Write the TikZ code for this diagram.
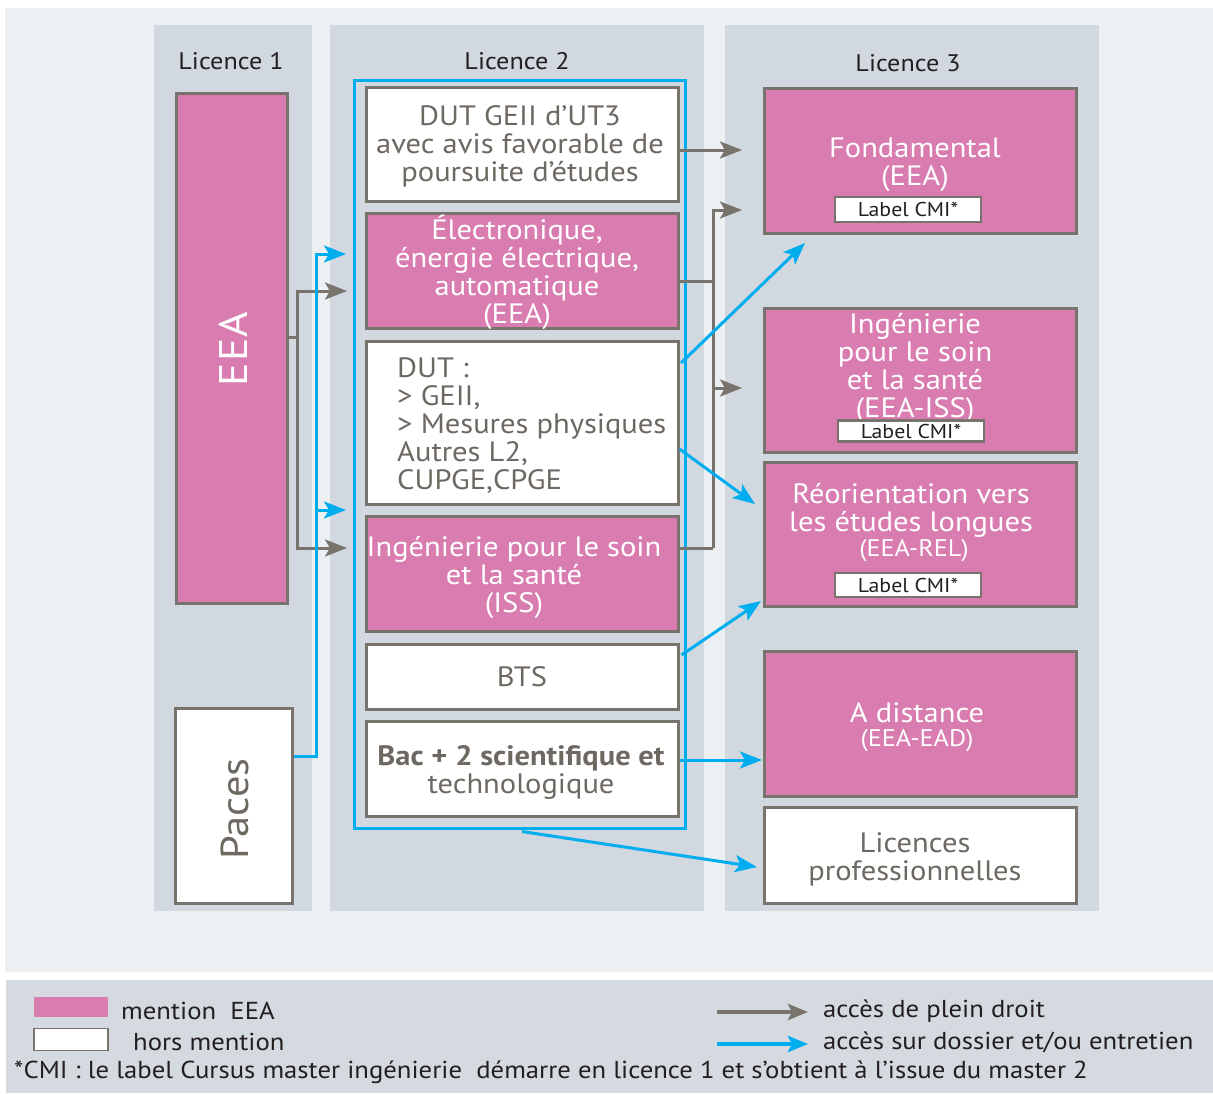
\documentclass[tikz,border=0pt]{standalone}
\usepackage{fontspec}
\setmainfont{PT Sans}[FakeStretch=1.09]
\usetikzlibrary{arrows.meta}
\definecolor{pinkf}{HTML}{D97CB0}
\definecolor{bord}{HTML}{78736C}
\definecolor{cyanb}{HTML}{00AEEF}
\definecolor{colbg}{HTML}{D1D8E0}
\definecolor{outbg}{HTML}{ECF0F3}
\definecolor{legbg}{HTML}{D4DAE0}
\definecolor{txtg}{HTML}{6E6862}
\definecolor{txtd}{HTML}{231F20}
\begin{document}
\begin{tikzpicture}[x=1pt,y=-1pt,
  fsz/.style={font=\fontsize{28}{28}\selectfont},
  fsm/.style={font=\fontsize{24}{26}\selectfont},
  box/.style={draw=bord, line width=3pt, inner sep=0pt, align=center, fsz, minimum width=312pt},
  pbox/.style={box, fill=pinkf, text=white},
  wbox/.style={box, fill=white, text=txtg},
  lab/.style={draw=bord, line width=2.5pt, fill=white, text=txtd, inner sep=0pt, minimum width=146pt, font=\fontsize{20}{20}\selectfont},
  colr/.style={fill=colbg},
  ptxt/.style={text=white, align=center, inner sep=0pt, fsz},
  head/.style={text=txtd, inner sep=0pt, font=\fontsize{24}{24}\selectfont},
  gline/.style={draw=bord, line width=3pt},
  bline/.style={draw=cyanb, line width=3pt},
  garrow/.style={gline, -{Stealth[length=22pt,width=17pt,inset=5pt]}},
  barrow/.style={bline, -{Stealth[length=22pt,width=17pt,inset=5pt]}},
  legt/.style={text=txtd, inner sep=0pt, anchor=west, font=\fontsize{24.5}{24.5}\selectfont}
]
\useasboundingbox (0,0) rectangle (1213,1093);
\fill[white] (0,0) rectangle (1213,1093);
% backgrounds
\fill[outbg] (5,8) rectangle (1213,972);
\fill[legbg] (6,980) rectangle (1213,1093);
\fill[colr] (154,25) rectangle (312,911);
\fill[colr] (330,25) rectangle (704,911);
\fill[colr] (725,25) rectangle (1099,911);
% headers
\node[head] (h1) at (231,61) {Licence 1};
\node[head] (h2) at (517,61) {Licence 2};
\node[head] (h3) at (908,63) {Licence 3};
% Licence 1
\node[draw=bord, line width=3pt, fill=pinkf, minimum width=111pt, minimum height=510pt, inner sep=0pt] (eea1) at (231.5,348) {};
\node[text=white, rotate=90, inner sep=0pt, font=\fontsize{40}{40}\selectfont] (eea1t) at (233,349) {E\kern1pt E\kern1pt A};
\node[draw=bord, line width=3pt, fill=white, minimum width=117pt, minimum height=195pt, inner sep=0pt] (paces) at (233.5,805.5) {};
\node[text=txtg, rotate=90, inner sep=0pt, font=\fontsize{39}{39}\selectfont] (pacest) at (235,809) {Paces};
% Licence 2 frame
\node[draw=cyanb, line width=3pt, minimum width=331pt, minimum height=748pt, inner sep=0pt] (frame) at (519.5,454) {};
% Licence 2 boxes
\node[wbox, minimum height=114pt] (dutgeii) at (522,144) {};
\node[text=txtg, align=center, inner sep=0pt, fsz] (dutgeiit) at (520,146) {DUT GEII d’UT3\\avec avis favorable de\\poursuite d’études};
\node[pbox, minimum height=115pt] (eea2) at (522,270.5) {};
\node[ptxt] (eea2t) at (517,272) {Électronique,\\énergie électrique,\\automatique\\(EEA)};
\node[wbox, minimum height=163pt] (dut) at (522,422.5) {};
\node[text=txtg, align=left, inner sep=0pt, fsz, anchor=west] (dutt) at (397,426) {DUT :\\> GEII,\\> Mesures physiques\\Autres L2,\\CUPGE,CPGE};
\node[pbox, minimum height=115pt] (iss2) at (522,573.5) {};
\node[ptxt] (iss2t) at (514,577) {Ingénierie pour le soin\\et la santé\\(ISS)};
\node[wbox, minimum height=65pt] (bts) at (522,676.5) {BTS};
\node[wbox, minimum height=95pt] (bac) at (522,768.5) {};
\node[text=txtg, align=center, inner sep=0pt, fsz] (bact) at (521,772) {\textbf{Bac + 2 scientifique et}\\technologique};
% Licence 3 boxes
\node[pbox, minimum height=145pt] (fond) at (920,160.5) {};
\node[ptxt] (fondt) at (915,165) {Fondamental\\(EEA)};
\node[lab, minimum height=25pt] (lab1) at (908,209.5) {Label CMI*};
\node[pbox, minimum height=144pt] (iss3) at (920,380) {};
\node[ptxt] (iss3t) at (915,368) {Ingénierie\\pour le soin\\et la santé\\(EEA-ISS)};
\node[lab, minimum height=21pt] (lab2) at (911,431) {Label CMI*};
\node[pbox, minimum height=144pt] (rel) at (920,534) {};
\node[ptxt] (relt) at (911,510) {Réorientation vers\\les études longues};
\node[ptxt, fsm] (relt2) at (914,551) {(EEA-REL)};
\node[lab, minimum height=24pt] (lab3) at (908,585) {Label CMI*};
\node[pbox, minimum height=145pt] (dist) at (920,723.5) {};
\node[ptxt] (distt) at (917,713) {A distance};
\node[ptxt, fsm] (distt2) at (917,741) {(EEA-EAD)};
\node[wbox, minimum height=96pt] (lpro) at (920,855) {};
\node[text=txtg, align=center, inner sep=0pt, fsz] (lprot) at (915,859) {Licences\\professionnelles};
% coordinates
\coordinate (t1) at (742,150);
\coordinate (bA) at (713,210);
\coordinate (bB) at (713,548);
\coordinate (t2) at (742,210);
\coordinate (t3) at (742,388);
\coordinate (lA) at (297,291);
\coordinate (lB) at (297,548);
\coordinate (tl1) at (347,291);
\coordinate (tl2) at (347,548);
\coordinate (pA) at (316,254);
\coordinate (tb1) at (346,254);
\coordinate (tb2) at (346,510);
\coordinate (tf) at (805,243);
\coordinate (tr1) at (755,504);
\coordinate (tr2) at (761,601);
\coordinate (td) at (762,760);
\coordinate (tp) at (757,867);
% gray connectors
\draw[garrow] (dutgeii.east |- t1) -- (t1);
\draw[gline] ([yshift=-10.5pt]eea2.east) -- ++(35,0);
\draw[gline] ([yshift=25.5pt]iss2.east) -- (bB);
\draw[garrow] (bB) -- (bA) -- (t2);
\draw[garrow] (bA |- t3) -- (t3);
\draw[gline] ([yshift=11pt]eea1.east) -- ++(10,0);
\draw[gline, {Stealth[length=22pt,width=17pt,inset=5pt]}-{Stealth[length=22pt,width=17pt,inset=5pt]}] (tl1) -- (lA) -- (lB) -- (tl2);
% blue connectors
\draw[bline, {Stealth[length=22pt,width=17pt,inset=5pt]}-] (tb1) -- (pA) |- ([yshift=49.5pt]paces.east);
\draw[barrow] (pA |- tb2) -- (tb2);
\draw[barrow] ([yshift=59.5pt,xshift=1.5pt]dut.east) -- (tf);
\draw[barrow] ([yshift=-26.5pt]dut.east) -- (tr1);
\draw[barrow] ([yshift=21.5pt,xshift=2pt]bts.east) -- (tr2);
\draw[barrow] (bac.east |- td) -- (td);
\draw[barrow] ([yshift=-2pt,xshift=2.5pt]frame.south) -- (tp);
% legend
\node[fill=pinkf, minimum width=74pt, minimum height=20pt, inner sep=0pt] (lg1) at (71,1007) {};
\node[draw=bord, line width=1.5pt, fill=white, minimum width=74pt, minimum height=22pt, inner sep=0pt] (lg2) at (71,1039.5) {};
\node[legt] (lg1t) at (121,1011) {mention\ \ EEA};
\node[legt] (lg2t) at (133,1042) {hors mention};
\node[legt] (lg3t) at (14,1072) {*CMI : le label Cursus master ingénierie\ \ démarre en licence 1 et s’obtient à l’issue du master 2};
\coordinate (la1) at (717,1012);
\coordinate (la2) at (808,1012);
\coordinate (lb1) at (717,1044);
\coordinate (lb2) at (808,1044);
\draw[gline, line width=4pt, -{Stealth[length=20pt,width=16pt,inset=4pt]}] (la1) -- (la2);
\draw[bline, line width=4pt, -{Stealth[length=20pt,width=16pt,inset=4pt]}] (lb1) -- (lb2);
\node[legt] (la3) at (823,1011) {accès de plein droit};
\node[legt] (lb3) at (823,1042) {accès sur dossier et/ou entretien};
\end{tikzpicture}
\end{document}
